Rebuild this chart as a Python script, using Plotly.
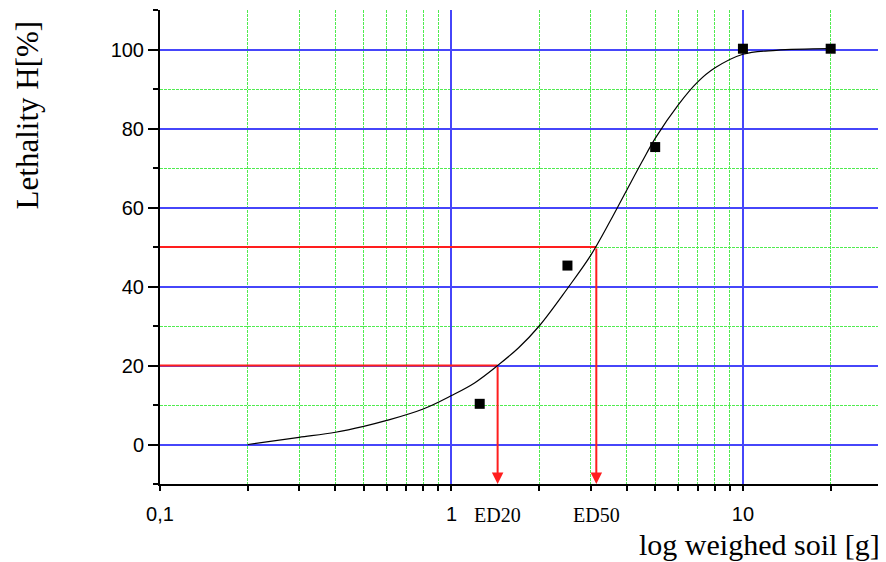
import math
import plotly.graph_objects as go

# data points
dose_x = [1.25, 2.5, 5.0, 10.0, 20.0]
lethality_y = [10.3, 45.3, 75.3, 100.2, 100.2]

# fitted curve
curve_x = [0.2, 0.3, 0.4, 0.5, 0.6, 0.8, 1.0, 1.2, 1.44, 1.7, 2.0, 2.5, 3.0, 3.5, 4.0, 4.5, 5.0, 6.0, 7.0, 8.0, 10.0, 13.0, 20.0]
curve_y = [0.0, 1.8, 3.1, 4.6, 6.1, 9.0, 12.4, 15.6, 20.0, 24.5, 30.0, 39.5, 47.8, 56.5, 64.5, 71.5, 77.5, 86.0, 91.8, 95.3, 98.8, 99.8, 100.2]

ed_names = ["ED20", "ED50"]
ed_x = [1.44, 3.14]
ed_y = [20, 50]

x_ticks = [0.1, 1, 10]
x_ticktext = ["0,1", "1", "10"]
x_minor = [0.2, 0.3, 0.4, 0.5, 0.6, 0.7, 0.8, 0.9, 2, 3, 4, 5, 6, 7, 8, 9, 20]
y_ticks = [0, 20, 40, 60, 80, 100]
y_minor = [-10, 10, 30, 50, 70, 90, 110]

BLUE = "rgb(70,70,250)"
GREEN = "rgb(80,235,80)"
RED = "rgb(255,30,30)"
SERIF = "Liberation Serif"
SANS = "Liberation Sans"

fig = go.Figure()

# red guide lines (horizontal parts)
for name, ex, ey in zip(ed_names, ed_x, ed_y):
    fig.add_trace(go.Scatter(x=[0.1, ex], y=[ey, ey], mode="lines",
                             line=dict(color=RED, width=2),
                             showlegend=False, hoverinfo="skip"))

fig.add_trace(go.Scatter(x=curve_x, y=curve_y, mode="lines",
                         line=dict(color="black", width=1.2, shape="spline", smoothing=1.0),
                         showlegend=False))
fig.add_trace(go.Scatter(x=dose_x, y=lethality_y, mode="markers",
                         marker=dict(symbol="square", size=10, color="black"),
                         showlegend=False))

annotations = []
for name, ex, ey in zip(ed_names, ed_x, ed_y):
    annotations.append(dict(x=math.log10(ex), y=-10, xref="x", yref="y",
                            ax=math.log10(ex), ay=ey, axref="x", ayref="y",
                            text="", showarrow=True, arrowhead=2, arrowsize=1.15,
                            arrowwidth=2, arrowcolor=RED, standoff=0))
    annotations.append(dict(x=math.log10(ex), y=-0.065, xref="x", yref="paper",
                            text=name, showarrow=False, xanchor="center", yanchor="middle",
                            font=dict(family=SERIF, size=20, color="black")))

annotations.append(dict(x=-0.184, y=0.778, xref="paper", yref="paper",
                        text="Lethality H[%]", textangle=-90, showarrow=False,
                        xanchor="center", yanchor="middle",
                        font=dict(family=SERIF, size=31, color="black")))
annotations.append(dict(x=1.0, y=-0.1266, xref="paper", yref="paper",
                        text="log weighed soil [g]", showarrow=False,
                        xanchor="right", yanchor="middle",
                        font=dict(family=SERIF, size=30, color="black")))

# the page body adds an 8px offset; the figure is sized/margined to compensate
fig.update_layout(
    width=878, height=554,
    margin=dict(l=152, r=4, t=2, b=78),
    plot_bgcolor="white", paper_bgcolor="white",
    annotations=annotations,
    xaxis=dict(type="log", range=[-1, math.log10(30)],
               tickmode="array", tickvals=x_ticks, ticktext=x_ticktext,
               ticks="outside", ticklen=5, tickwidth=1.5, tickcolor="black",
               tickfont=dict(family=SANS, size=20, color="black"),
               ticklabelstandoff=6,
               showline=True, linecolor="black", linewidth=2,
               showgrid=True, gridcolor=BLUE, gridwidth=1.6, zeroline=False,
               minor=dict(tickmode="array", tickvals=x_minor, ticks="outside", ticklen=5,
                          tickwidth=1.5, tickcolor="black", showgrid=True,
                          gridcolor=GREEN, griddash="3px,1px", gridwidth=1)),
    yaxis=dict(range=[-10, 110], tickmode="array", tickvals=y_ticks,
               ticks="outside", ticklen=10, tickwidth=2, tickcolor="black",
               tickfont=dict(family=SANS, size=20, color="black"),
               showline=True, linecolor="black", linewidth=2,
               showgrid=True, gridcolor=BLUE, gridwidth=1.6, zeroline=False,
               minor=dict(tickmode="array", tickvals=y_minor, ticks="outside", ticklen=5,
                          tickwidth=2, tickcolor="black", showgrid=True,
                          gridcolor=GREEN, griddash="3px,1px", gridwidth=1)),
)

fig.write_html("out.html")
